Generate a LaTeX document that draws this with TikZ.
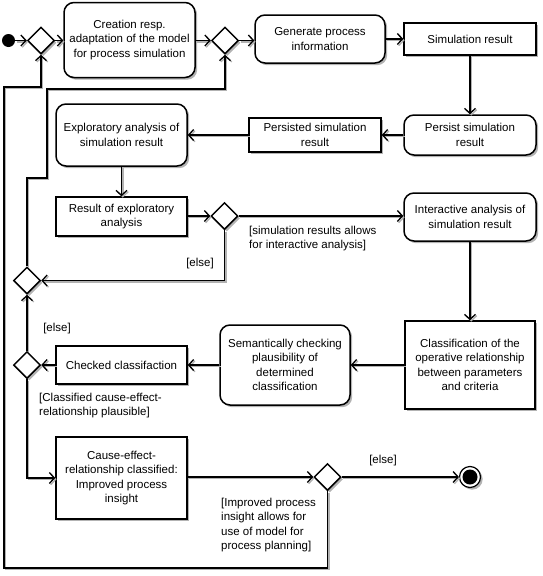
\documentclass[tikz,border=0pt]{standalone}
\usepackage{fontspec}
\setmainfont{Liberation Sans}
\usetikzlibrary{shapes.geometric,shadows,arrows.meta}
\begin{document}
\begin{tikzpicture}[x=1pt,y=-1pt,
  lbl/.style={font=\fontsize{11.5}{14.5}\selectfont, inner sep=0pt},
  shad/.style={drop shadow={shadow xshift=2.2pt,shadow yshift=-2.2pt,fill=black!50,opacity=0.6}},
  act/.style={draw, line width=1.5pt, rounded corners=10pt, fill=white, shad, align=center, inner sep=0pt, font=\fontsize{11.5}{14.5}\selectfont},
  obj/.style={draw, line width=1.5pt, fill=white, shad, align=center, inner sep=0pt, font=\fontsize{11.5}{14.5}\selectfont},
  dec/.style={draw, line width=1.5pt, diamond, fill=white, shad, minimum width=27pt, minimum height=27pt, inner sep=0pt},
  flow/.style={line width=1.5pt, -{Straight Barb[length=5pt,width=11pt,line width=1.3pt]},
    preaction={draw=black!30, line width=1.5pt, transform canvas={xshift=1.3pt,yshift=-1.3pt}}}]
\useasboundingbox (0,0) rectangle (543,576);

% initial and final
\node[circle, fill=black, minimum size=13pt, inner sep=0pt] (start) at (8.5,40.5) {};
\node[circle, draw, line width=1.2pt, fill=white, minimum size=21pt, inner sep=0pt, shad] (endn) at (470,477) {};
\node[circle, fill=black, minimum size=15pt, inner sep=0pt] (endi) at (470,477) {};

% decisions
\node[dec] (d1) at (41,40.5) {};
\node[dec] (d2) at (225,40.5) {};
\node[dec] (d3) at (224.5,216) {};
\node[dec] (d4) at (27,280.5) {};
\node[dec] (d5) at (27,365) {};
\node[dec] (d6) at (327.5,477) {};

% actions and objects
\node[act, minimum width=131pt, minimum height=75pt] (create) at (129.5,40) {Creation resp.\\adaptation of the model\\for process simulation};
\node[act, minimum width=130pt, minimum height=48pt] (gen) at (320,39) {Generate process\\information};
\node[obj, minimum width=132pt, minimum height=32pt] (simres) at (470,39) {Simulation result};
\node[act, minimum width=132pt, minimum height=40pt] (persist) at (470,135) {Persist simulation\\result};
\node[obj, minimum width=132pt, minimum height=34pt] (persisted) at (315,135) {Persisted simulation\\result};
\node[act, minimum width=131pt, minimum height=62pt] (explor) at (121.5,135) {Exploratory analysis of\\simulation result};
\node[obj, minimum width=131pt, minimum height=39pt] (resexp) at (121.5,216.5) {Result of exploratory\\analysis};
\node[act, minimum width=132pt, minimum height=48pt] (inter) at (470,217) {Interactive analysis of\\simulation result};
\node[obj, minimum width=130pt, minimum height=88pt] (classif) at (470,365) {Classification of the\\operative relationship\\between parameters\\and criteria};
\node[act, minimum width=130pt, minimum height=80pt] (sem) at (285,365) {Semantically checking\\plausibility of\\determined\\classification};
\node[obj, minimum width=131pt, minimum height=38pt] (checked) at (121.5,365) {Checked classifaction};
\node[obj, minimum width=131pt, minimum height=82pt] (cause) at (121.5,478) {Cause-effect-\\relationship classified:\\Improved process\\insight};

% guard labels
\node[lbl, anchor=west, align=left] (g1) at (249,238.5) {[simulation results allows\\for interactive analysis]};
\node[lbl] (g2) at (200,264) {[else]};
\node[lbl] (g3) at (57,329) {[else]};
\node[lbl, anchor=west, align=left] (g4) at (39,405.5) {[Classified cause-effect-\\relationship plausible]};
\node[lbl] (g5) at (383,461) {[else]};
\node[lbl, anchor=west, align=left] (g6) at (221,525) {[Improved process\\insight allows for\\use of model for\\process planning]};

% junction points
\coordinate (j1) at (47,178);
\coordinate (j2) at (47,89);
\coordinate (k1) at (4,568);
\coordinate (k2) at (4,87);

% flows
\draw[flow] (start) -- (d1.west);
\draw[flow] (d1.east) -- (d1.east -| create.west);
\draw[flow] (create.east |- d2.west) -- (d2.west);
\draw[flow] (d2.east) -- (d2.east -| gen.west);
\draw[flow] (gen.east |- simres.west) -- (simres.west);
\draw[flow] (simres.south) -- (persist.north);
\draw[flow] (persist.west) -- (persisted.east);
\draw[flow] (persisted.west) -- (explor.east);
\draw[flow] (explor.south) -- (resexp.north);
\draw[flow] (resexp.east |- d3.west) -- (d3.west);
\draw[flow] (d3.east) -- (d3.east -| inter.west);
\draw[flow] (d3.south) |- (d4.east);
\draw[flow] (inter.south) -- (classif.north);
\draw[flow] (classif.west) -- (sem.east);
\draw[flow] (sem.west) -- (checked.east);
\draw[flow] (checked.west) -- (d5.east);
\draw[flow] (d5.north) -- (d4.south);
\draw[flow] (d4.north) |- (j1) -- (j2) -| (d2.south);
\draw[flow] (d5.south) |- (cause.west);
\draw[flow] (cause.east |- d6.west) -- (d6.west);
\draw[flow] (d6.east) -- (endn.west);
\draw[flow] (d6.south) |- (k1) -- (k2) -| (d1.south);
\end{tikzpicture}
\end{document}
